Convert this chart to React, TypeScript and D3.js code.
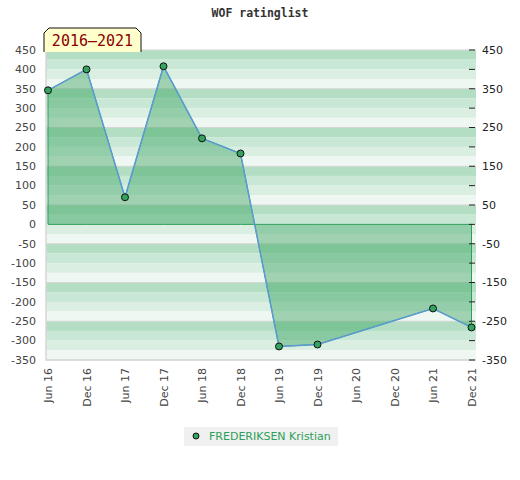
import React from 'react';
import * as d3 from 'd3';

// half-year periods shown on the x axis
const periods = ['Jun 16', 'Dec 16', 'Jun 17', 'Dec 17', 'Jun 18', 'Dec 18',
  'Jun 19', 'Dec 19', 'Jun 20', 'Dec 20', 'Jun 21', 'Dec 21'];

// rating per period, null where the player has no entry
const ratings: (number | null)[] = [346, 400, 70, 408, 222, 183, -315, -310, null, null, -217, -266];

const leftTicks = [450, 400, 350, 300, 250, 200, 150, 100, 50, 0, -50, -100,
  -150, -200, -250, -300, -350];
const rightTicks = [450, 350, 250, 150, 50, -50, -150, -250, -350];

const playerName = 'FREDERIKSEN Kristian';
const yearRange = '2016\u20132021';

const W = 520;
const H = 480;
const plot = { left: 46, right: 476, top: 50, bottom: 360 };

const bandColors = ['#b3dec3', '#c8e7d4', '#dbeee2', '#eff7f2'];

const App: React.FC = () => {
  const x = d3.scalePoint<string>().domain(periods).range([48, 471.5]);
  const y = d3.scaleLinear().domain([-350, 450]).range([plot.bottom, plot.top]);

  const pts = periods
    .map((p, i) => ({ p, v: ratings[i] }))
    .filter(d => d.v !== null) as { p: string; v: number }[];

  const area = d3.area<{ p: string; v: number }>()
    .x(d => x(d.p) as number)
    .y0(y(0))
    .y1(d => y(d.v));

  const line = d3.line<{ p: string; v: number }>()
    .x(d => x(d.p) as number)
    .y(d => y(d.v));

  // 25-point shading bands, repeating every 100 from the top
  const bands = d3.range(450, -350, -25);

  const sans = 'DejaVu Sans, sans-serif';
  const mono = 'DejaVu Sans Mono, monospace';

  return (
    <svg width={W} height={H} style={{ position: 'absolute', left: 0, top: 0 }}>
      <rect width={W} height={H} fill="#fff" />
      <text x={260} y={17} textAnchor="middle" fontFamily={mono} fontWeight="bold"
        fontSize={11.5} fill="#333">WOF ratinglist</text>

      {bands.map((b, i) => (
        <rect key={b} x={plot.left} width={plot.right - plot.left}
          y={y(b)} height={y(b - 25) - y(b)} fill={bandColors[i % 4]} />
      ))}
      {rightTicks.map(t => (
        <line key={'g' + t} x1={plot.left} x2={plot.right} y1={y(t)} y2={y(t)}
          stroke="#d6d6d6" strokeWidth={1} />
      ))}
      <path d={`M${plot.left},${plot.top}V${plot.bottom}H${plot.right}`} fill="none"
        stroke="#d6d6d6" strokeWidth={1.5} />

      <path d={area(pts) || ''} fill="rgba(50,160,90,0.42)" stroke="#2ca05a" strokeWidth={1} />
      <path d={line(pts) || ''} fill="none" stroke="#5b9bd5" strokeWidth={1.5} />
      {pts.map(d => (
        <circle key={d.p} cx={x(d.p)} cy={y(d.v)} r={3.5} fill="#33a35f"
          stroke="#111" strokeWidth={1} />
      ))}

      {leftTicks.map(t => (
        <text key={'l' + t} x={36} y={y(t)} dy="0.35em" textAnchor="end"
          fontFamily={sans} fontSize={11} fill="#444">{t}</text>
      ))}
      {leftTicks.map(t => (
        <line key={'rt' + t} x1={469} x2={475} y1={y(t)} y2={y(t)} stroke="#222" strokeWidth={1} />
      ))}
      {rightTicks.map(t => (
        <text key={'r' + t} x={482} y={y(t)} dy="0.35em" textAnchor="start"
          fontFamily={sans} fontSize={11} fill="#222">{t}</text>
      ))}

      {periods.map(p => (
        <text key={p} transform={`translate(${(x(p) as number) + 4},368) rotate(-90)`}
          textAnchor="end" fontFamily={sans} fontSize={11} fill="#444">{p}</text>
      ))}

      <path d="M44,52V33L49,28H136L141,33V52" fill="#ffffcc" stroke="#111" strokeWidth={1} />
      <text x={92.5} y={46} textAnchor="middle" fontFamily={mono} fontSize={15}
        fill="#8b0000">{yearRange}</text>

      <rect x={184} y={427} width={154} height={19} fill="#f0f0f0" />
      <circle cx={196} cy={436} r={3} fill="#33a35f" stroke="#111" strokeWidth={1} />
      <text x={209} y={440} fontFamily={sans} fontSize={11} fill="#2ca05a">{playerName}</text>
    </svg>
  );
};

export default App;
